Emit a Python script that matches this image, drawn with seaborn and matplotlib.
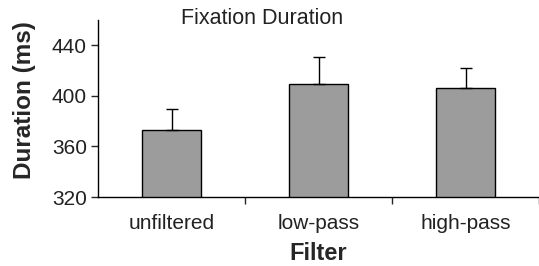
import pandas as pd
import seaborn as sns
import matplotlib.pyplot as plt
from matplotlib.ticker import FixedLocator

# values
filters = ["unfiltered", "low-pass", "high-pass"]
duration = [373, 409, 406.5]
err_upper = [17, 21.5, 15.5]

df = pd.DataFrame({"Filter": filters, "Duration": duration})

sns.set_style("ticks")
plt.rcParams['font.family'] = ['Liberation Sans', 'DejaVu Sans']

fig = plt.figure(figsize=(5.39, 2.66), dpi=100)
ax = fig.add_axes([0.182, 0.259, 0.818, 0.666])

sns.barplot(data=df, x="Filter", y="Duration", color="#9c9c9c", width=0.4,
            edgecolor="black", linewidth=1.0, saturation=1, ax=ax)
ax.errorbar(range(len(filters)), duration, yerr=[[0] * 3, err_upper],
            fmt="none", ecolor="black", elinewidth=1.0, capsize=4, capthick=1.0)

ax.set_ylim(320, 460)
ax.set_xlim(-0.5, 2.5)
ax.set_yticks([320, 360, 400, 440])
ax.tick_params(axis="y", labelsize=15, length=5, width=1, direction="out", pad=3,
               labelcolor="#222222")
ax.tick_params(axis="x", which="major", length=0, labelsize=15, pad=12,
               labelcolor="#222222")
ax.xaxis.set_minor_locator(FixedLocator([0.5, 1.5, 2.5]))
ax.tick_params(axis="x", which="minor", length=5, width=1, direction="out")

for s in ["top", "right"]:
    ax.spines[s].set_visible(False)
for s in ["left", "bottom"]:
    ax.spines[s].set_linewidth(1.0)
    ax.spines[s].set_color("black")

ax.set_xlabel("Filter", fontsize=17, fontweight="bold", labelpad=7)
ax.set_ylabel("Duration (ms)", fontsize=17.5, fontweight="bold")
ax.yaxis.set_label_coords(-0.14, 0.545)
fig.text(0.487, 0.932, "Fixation Duration", ha="center", va="center",
         fontsize=15.5, color="#222222")

fig.savefig("out.png", dpi=100)
